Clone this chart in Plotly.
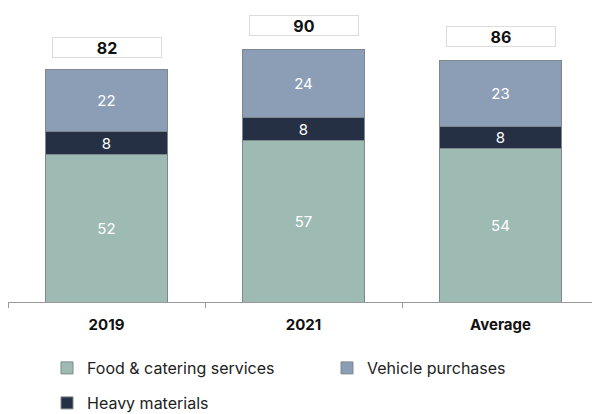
import plotly.graph_objects as go

categories = ["2019", "2021", "Average"]
food = [52, 57, 54]
heavy = [8, 8, 8]
vehicle = [22, 24, 23]
totals = [82, 90, 86]

series_names = ["Food & catering services", "Heavy materials", "Vehicle purchases"]
colors = {"Food & catering services": "#9dbab3",
          "Heavy materials": "#263045",
          "Vehicle purchases": "#8b9eb6"}
FONT = "Inter, Lato, sans-serif"

fig = go.Figure()
legend_map = {"Food & catering services": "legend",
              "Heavy materials": "legend2",
              "Vehicle purchases": "legend3"}
for name, vals in zip(series_names, [food, heavy, vehicle]):
    fig.add_trace(go.Bar(
        x=categories, y=vals, name=name,
        marker=dict(color=colors[name], line=dict(color="#7f878e", width=1)),
        text=[str(v) for v in vals], textposition="inside",
        insidetextanchor="middle", textangle=0, constraintext="none",
        textfont=dict(color="white", size=15, family=FONT),
        legend=legend_map[name],
        hoverinfo="skip",
    ))

for i, t in enumerate(totals):
    fig.add_annotation(
        x=i, y=t, xref="x", yref="y", text=f"<b>{t}</b>", showarrow=False,
        yanchor="bottom", yshift=11, width=106, height=17,
        bordercolor="#dcdcdc", borderwidth=1, borderpad=1, bgcolor="white",
        font=dict(size=16, color="#111111", family=FONT),
    )

PLOT_H = 302.0
legend_font = dict(size=16, color="#222222", family=FONT)
fig.update_layout(
    width=592, height=414,
    margin=dict(l=8, r=0, t=0, b=112, autoexpand=False),
    barmode="stack", bargap=0.376,
    plot_bgcolor="white", paper_bgcolor="white",
    font=dict(family=FONT, color="#222222"),
    xaxis=dict(type="category", range=[-0.5, -0.5 + 584 / 197], showline=True,
               linecolor="#999999", linewidth=1, ticks="outside", tickson="boundaries",
               ticklen=5, tickcolor="#999999", ticklabelstandoff=9, showgrid=False,
               tickfont=dict(size=15, color="#111111", family=FONT, weight="bold")),
    yaxis=dict(range=[0, 106.5], visible=False),
    legend=dict(x=39 / 584, xanchor="left", y=-(368 - PLOT_H) / PLOT_H,
                yanchor="middle", font=legend_font),
    legend2=dict(x=39 / 584, xanchor="left", y=-(403 - PLOT_H) / PLOT_H,
                 yanchor="middle", font=legend_font),
    legend3=dict(x=319 / 584, xanchor="left", y=-(368 - PLOT_H) / PLOT_H,
                 yanchor="middle", font=legend_font),
    showlegend=True,
)

fig.write_html("out.html")
